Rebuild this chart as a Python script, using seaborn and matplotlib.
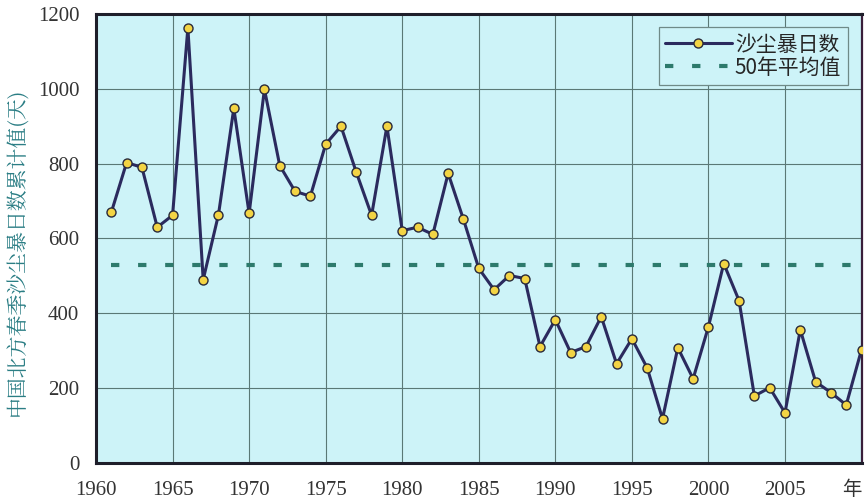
import matplotlib
matplotlib.use("Agg")
import matplotlib.pyplot as plt
import seaborn as sns
import pandas as pd
from matplotlib.lines import Line2D

years = list(range(1961, 2011))
days = [670, 803, 790, 630, 662, 1163, 490, 664, 948, 667,
        999, 795, 726, 713, 852, 900, 777, 662, 900, 621,
        630, 611, 774, 651, 520, 463, 501, 493, 311, 383,
        295, 311, 391, 265, 332, 254, 118, 308, 225, 364,
        533, 434, 179, 201, 134, 356, 217, 188, 155, 303]
mean_50yr = 528
x_ticks = list(range(1960, 2011, 5))
x_tick_labels = ["1960", "1965", "1970", "1975", "1980", "1985", "1990", "1995", "2000", "2005", "年"]
y_ticks = [0, 200, 400, 600, 800, 1000, 1200]
series_label = "沙尘暴日数"
mean_label = "50年平均值"
y_label = "中国北方春季沙尘暴日数累计值(天)"

sns.set_style("white")
plt.rcParams['font.family'] = ['Liberation Serif', 'Noto Sans CJK SC', 'DejaVu Sans']

df = pd.DataFrame({"year": years, "days": days, "mean": [mean_50yr] * len(years)})

fig = plt.figure(figsize=(8.65, 5.01), dpi=100)
ax = fig.add_axes([0.111, 0.076, 0.885, 0.896])
ax.set_facecolor("#cdf3f8")

line_color = "#2b2a5e"
mean_color = "#2d7a6c"
marker_face = "#f3d444"

sns.lineplot(data=df, x="year", y="mean", ax=ax, color=mean_color, linewidth=3.0,
             dashes=False, zorder=2)
ax.lines[-1].set_dashes((2, 4.5))
sns.lineplot(data=df, x="year", y="days", ax=ax, color=line_color, linewidth=2.2,
             marker="o", markersize=6.5, markerfacecolor=marker_face,
             markeredgecolor="#2a2a3a", markeredgewidth=1.0, zorder=3)

ax.set_xlim(1960, 2010)
ax.set_ylim(0, 1200)
ax.set_xticks(x_ticks)
ax.set_xticklabels(x_tick_labels)
ax.set_yticks(y_ticks)
ax.tick_params(axis="both", length=0, labelsize=15, labelcolor="#333333")
ax.tick_params(axis="x", pad=13)
ax.tick_params(axis="y", pad=12)
xlabels = ax.get_xticklabels()
for lbl in xlabels:
    lbl.set_family(['Liberation Serif', 'Noto Sans CJK SC'])
xlabels[-1].set_horizontalalignment("right")
xlabels[-1].set_fontsize(14)
ax.grid(True, color="#5a7876", linewidth=0.8)
ax.set_axisbelow(True)

for side, sp in ax.spines.items():
    sp.set_visible(True)
    sp.set_color("#1e1e2a")
    sp.set_linewidth(2.2)
ax.spines["right"].set_color("#3a1e3a")
ax.spines["right"].set_linewidth(1.6)

ax.set_xlabel("")
ax.set_ylabel(y_label, fontsize=15, color="#2a7d84", family=['Noto Serif CJK SC', 'Noto Sans CJK SC'],
              labelpad=8)
ax.yaxis.set_label_coords(-0.088, 0.47)

handles = [
    Line2D([0], [0], color=line_color, linewidth=2.2, marker="o", markersize=6.5,
           markerfacecolor=marker_face, markeredgecolor="#2a2a3a", markeredgewidth=1.0),
    Line2D([0], [0], color=mean_color, linewidth=3.0, dashes=(2, 4.5)),
]
leg = ax.legend(handles, [series_label, mean_label], loc="upper right",
                bbox_to_anchor=(0.99, 0.984), frameon=True, fancybox=False,
                prop={"family": ['Noto Sans CJK SC'], "size": 15},
                handlelength=3.2, handletextpad=0.15, borderpad=0.3, labelspacing=0.05,
                borderaxespad=0.3)
leg.get_frame().set_facecolor("#cdf3f8")
leg.get_frame().set_edgecolor("#6f8a88")
leg.get_frame().set_linewidth(0.9)
leg.get_frame().set_alpha(1)

fig.savefig("out.png", dpi=100)
